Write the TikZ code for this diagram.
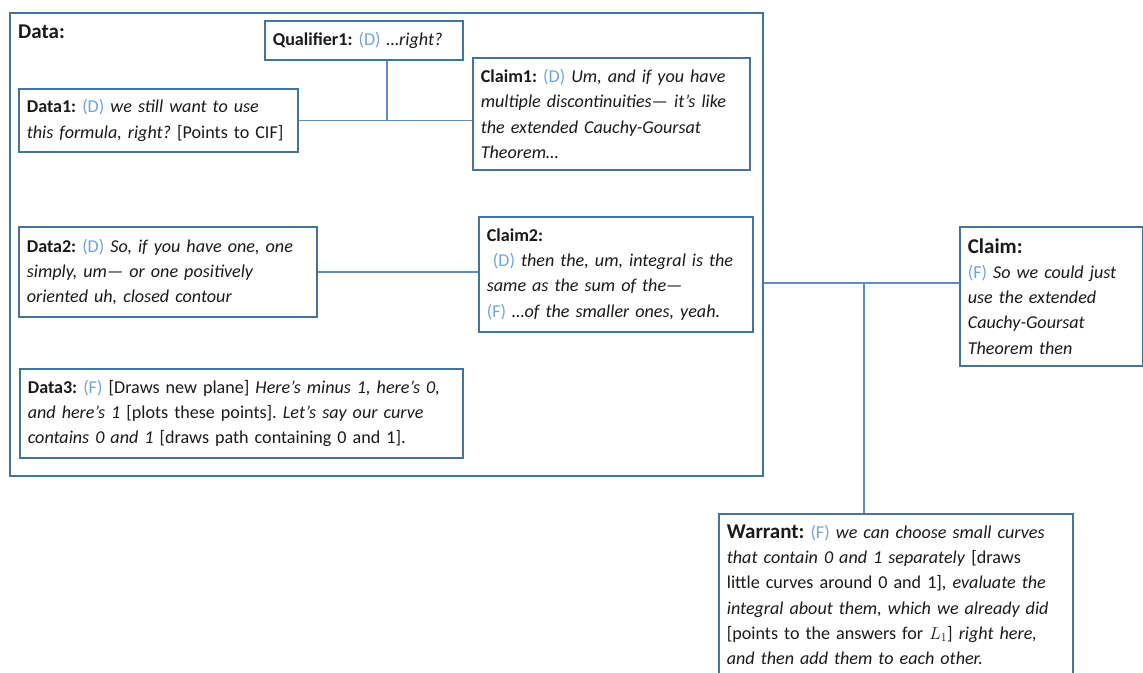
\documentclass[tikz,border=0pt]{standalone}
\usepackage{fontspec}
\setmainfont{Carlito}
\frenchspacing
\definecolor{boxline}{HTML}{44739C}
\definecolor{linkline}{HTML}{5D8FBD}
\definecolor{speaker}{HTML}{72A6D6}
\definecolor{txt}{HTML}{1A1A1A}
\newcommand{\who}[1]{\textcolor{speaker}{(#1)}}
\tikzset{
  box/.style={draw=boxline, line width=1.7pt, fill=white, anchor=north west,
    align=left, inner xsep=8pt, inner ysep=2pt, text=txt,
    font=\fontsize{18.1}{25.2}\selectfont},
  frame/.style={draw=boxline, line width=1.7pt, anchor=north west, inner sep=0pt},
  link/.style={draw=linkline, line width=1.7pt},
  head/.style={text=txt, font=\fontsize{21}{25}\selectfont\bfseries},
}

\begin{document}
\begin{tikzpicture}[x=1pt, y=-1pt]
		\clip (0,0) rectangle (1143,672);
		% Draw data frame
		\node [frame, minimum width=753pt, minimum height=463pt] (dataframe) at (9,12) {};
		\node [head, anchor=base west, inner sep=0pt] (datahead) at (18,38) {Data:};
		% Draw boxes
		\node [box, text width=182pt, minimum height=39pt] (qualifier1) at (264,20)
			{\textbf{Qualifier1:} \who{D} \textit{…right?}};
		\node [box, text width=263pt, minimum height=63pt] (data1) at (18,88)
			{\textbf{Data1:} \who{D} \textit{we still want to use}\\
			 \textit{this formula, right?} [Points to CIF]};
		\node [box, text width=261pt, minimum height=112pt] (claim1) at (472,57)
			{\textbf{Claim1:} \who{D} \textit{Um, and if you have}\\
			 \textit{multiple discontinuities— it’s like}\\
			 \textit{the extended Cauchy-Goursat}\\
			 \textit{Theorem…}};
		\node [box, text width=282pt, minimum height=90pt] (data2) at (18,226)
			{\textbf{Data2:} \who{D} \textit{So, if you have one, one}\\
			 \textit{simply, um— or one positively}\\
			 \textit{oriented uh, closed contour}};
		\node [box, text width=258pt, minimum height=115pt] (claim2) at (478,216)
			{\textbf{Claim2:}\\
			 \ \who{D} \textit{then the, um, integral is the}\\
			 \textit{same as the sum of the—}\\
			 \who{F} \textit{…of the smaller ones, yeah.}};
		\node [box, text width=427pt, minimum height=89pt] (data3) at (19,368)
			{\textbf{Data3:} \who{F} [Draws new plane] \textit{Here’s minus 1, here’s 0,}\\
			 \textit{and here’s 1} [plots these points]. \textit{Let’s say our curve}\\
			 \textit{contains 0 and 1} [draws path containing 0 and 1].};
		\node [box, text width=167pt, minimum height=139pt] (claim) at (959,226)
			{{\fontsize{21}{25.2}\selectfont\bfseries Claim:}\\
			 \who{F} \textit{So we could just}\\
			 \textit{use the extended}\\
			 \textit{Cauchy-Goursat}\\
			 \textit{Theorem then}};
		\node [box, text width=338pt, inner ysep=11pt] (warrant) at (718,513)
			{{\fontsize{21}{25.2}\selectfont\bfseries Warrant:} \who{F} \textit{we can choose small curves}\\
			 \textit{that contain 0 and 1 separately} [draws\\
			 little curves around 0 and 1], \textit{evaluate the}\\
			 \textit{integral about them, which we already did}\\
			 {[}points to the answers for $L_1$] \textit{right here,}\\
			 \textit{and then add them to each other.}\\[20pt]};
		% Draw connectors
		\coordinate (qx) at (387,0);
		\coordinate (cy) at (0,283);
		\coordinate (wx) at (864,0);
		\draw [link] (data1.east) -- (data1.east -| claim1.west);
		\draw [link] (qualifier1.south -| qx) -- (qx |- data1.east);
		\draw [link] (data2.east) -- (data2.east -| claim2.west);
		\draw [link] (dataframe.east |- cy) -- (claim.west |- cy);
		\draw [link] (wx |- cy) -- (warrant.north -| wx);
	\end{tikzpicture}
\end{document}
